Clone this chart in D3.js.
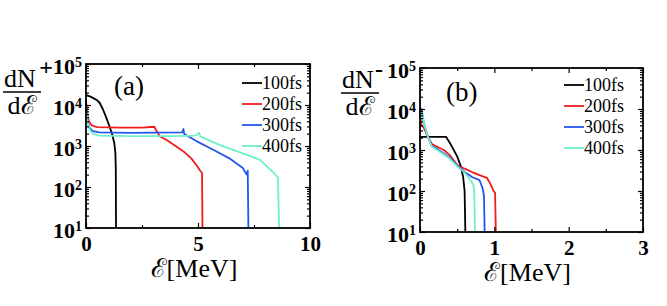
<!DOCTYPE html>
<html>
<head>
<meta charset="utf-8">
<script src="https://cdn.jsdelivr.net/npm/d3@7"></script>
<style>
  body { margin: 0; background: white; }
  svg { display: block; }
</style>
</head>
<body>
<svg id="chart" width="667" height="306"></svg>
<script>
// series labels and colours
var times = ["100fs", "200fs", "300fs", "400fs"];
var lineColors = ["#000000", "#f01c1c", "#2455f0", "#6ff0c8"];

// (a) positrons: [energy MeV, dN/dE]
var positron100 = [[0, 1.75e4], [0.2, 1.6e4], [0.5, 1.3e4], [0.6, 1.15e4], [0.75, 8e3], [0.9, 5e3],
    [1.05, 3e3], [1.17, 1.9e3], [1.26, 1.2e3], [1.31, 7e2], [1.33, 3e2], [1.34, 10]];
var positron200 = [[0, 1.3e4], [0.03, 8e3], [0.08, 5e3], [0.15, 3.8e3], [0.25, 3.2e3], [0.5, 2.9e3],
    [1.5, 2.8e3], [2.5, 2.8e3], [3.05, 2.95e3], [3.1, 2.6e3], [3.3, 1.7e3], [3.6, 1.4e3], [4.0, 1e3],
    [4.4, 7e2], [4.7, 5e2], [4.95, 3.3e2], [5.1, 2.5e2], [5.18, 2.2e2], [5.2, 10]];
var positron300 = [[0, 1e4], [0.03, 6.5e3], [0.08, 4e3], [0.15, 2.8e3], [0.3, 2.3e3], [0.6, 2.15e3],
    [2, 2.1e3], [4.3, 2.15e3], [4.35, 2.6e3], [4.38, 2e3], [4.5, 1.8e3], [4.95, 1.3e3], [5.7, 8e2],
    [6.4, 5e2], [7.0, 2.9e2], [7.17, 2e2], [7.22, 2.5e2], [7.25, 10]];
var positron400 = [[0, 9e3], [0.03, 6e3], [0.08, 3.8e3], [0.15, 2.6e3], [0.3, 2e3], [0.6, 1.8e3],
    [2, 1.75e3], [4, 1.75e3], [4.9, 1.8e3], [5.05, 2.1e3], [5.1, 1.7e3], [5.22, 1.6e3], [5.98, 1.05e3],
    [6.88, 7e2], [7.77, 4.6e2], [8.35, 2.3e2], [8.57, 1.7e2], [8.62, 10]];

// (b) electrons: [energy MeV, dN/dE]
var electron100 = [[0, 2.1e3], [0.35, 2.1e3], [0.42, 1.3e3], [0.5, 7e2], [0.55, 4e2], [0.58, 2.2e2],
    [0.6, 1e2], [0.61, 10]];
var electron200 = [[0, 7e3], [0.02, 4e3], [0.05, 3.5e3], [0.1, 2.2e3], [0.16, 1.4e3], [0.25, 1.15e3],
    [0.32, 1e3], [0.4, 7.5e2], [0.5, 4.3e2], [0.6, 3.5e2], [0.7, 2.9e2], [0.8, 2.45e2], [0.9, 2.1e2],
    [0.95, 1.45e2], [0.99, 1e2], [1.01, 9e1], [1.02, 10]];
var electron300 = [[0, 8e3], [0.02, 1e4], [0.04, 6e3], [0.07, 3.5e3], [0.11, 2e3], [0.16, 1.25e3],
    [0.23, 1.05e3], [0.31, 8.5e2], [0.4, 6.5e2], [0.5, 4.2e2], [0.6, 2.9e2], [0.7, 2.2e2], [0.8, 1.85e2],
    [0.84, 1.2e2], [0.86, 8e1], [0.87, 10]];
var electron400 = [[0, 9e3], [0.02, 8e3], [0.05, 5e3], [0.08, 3e3], [0.11, 2e3], [0.16, 1.2e3],
    [0.23, 1e3], [0.31, 8e2], [0.4, 6.2e2], [0.5, 4e2], [0.6, 2.8e2], [0.68, 1.85e2], [0.72, 1.4e2],
    [0.73, 9e1], [0.74, 10]];

// axis ticks
var yMajor = [1e1, 1e2, 1e3, 1e4, 1e5];
var yExponents = ["1", "2", "3", "4", "5"];
var xMajorA = [0, 5, 10];
var xMinorA = [2.5, 7.5];
var xMajorB = [0, 1, 2, 3];
var xMinorB = [0.5, 1.5, 2.5];

var serif = "'Liberation Serif', 'Times New Roman', serif";
var svg = d3.select("#chart");

function Panel(cfg) {
    var w = cfg.width, h = cfg.height;
    var g = svg.append("g").attr("transform", "translate(" + cfg.left + "," + cfg.top + ")");

    var x = d3.scaleLinear().domain(cfg.xDomain).range([0, w]);
    var y = d3.scaleLog().domain([1e1, 1e5]).range([h, 0]);

    var yMinor = [];
    [1e1, 1e2, 1e3, 1e4].forEach(function(d){
        for (var k = 2; k <= 9; k++) yMinor.push(d * k);
    });

    var line = d3.line()
        .x(function(d){return x(d[0])})
        .y(function(d){return y(d[1])});

    // curves
    cfg.series.forEach(function(s, i){
        g.append("path")
            .datum(s)
            .attr("d", line)
            .attr("fill", "none")
            .attr("stroke", lineColors[i])
            .attr("stroke-width", 1.8)
            .attr("stroke-linejoin", "round");
    });

    var styleAxis = function(sel){
        sel.select(".domain").remove();
        sel.selectAll("line").attr("stroke", "black").attr("stroke-width", 1.2);
    };

    // minor ticks, all four sides
    g.append("g").call(d3.axisLeft(y).tickValues(yMinor).tickSize(-3).tickFormat("")).call(styleAxis);
    g.append("g").attr("transform", "translate(" + w + ",0)")
        .call(d3.axisRight(y).tickValues(yMinor).tickSize(-3).tickFormat("")).call(styleAxis);
    g.append("g").attr("transform", "translate(0," + h + ")")
        .call(d3.axisBottom(x).tickValues(cfg.xMinor).tickSize(-3).tickFormat("")).call(styleAxis);
    g.append("g")
        .call(d3.axisTop(x).tickValues(cfg.xMinor).tickSize(-3).tickFormat("")).call(styleAxis);

    // major ticks
    var yAxis = g.append("g")
        .call(d3.axisLeft(y).tickValues(yMajor).tickSizeInner(-5).tickSizeOuter(0).tickPadding(4))
        .call(styleAxis);
    yAxis.selectAll("text")
        .text("")
        .attr("font-family", serif)
        .attr("font-weight", "bold")
        .attr("font-size", 22)
        .attr("fill", "black")
        .attr("dy", "0.45em")
        .each(function(d, i){
            var t = d3.select(this);
            t.append("tspan").text("10");
            t.append("tspan").attr("dy", "-0.55em").attr("font-size", 14).text(yExponents[i]);
        });
    g.append("g").attr("transform", "translate(" + w + ",0)")
        .call(d3.axisRight(y).tickValues(yMajor).tickSize(-5).tickFormat("")).call(styleAxis);

    var xAxis = g.append("g").attr("transform", "translate(0," + h + ")")
        .call(d3.axisBottom(x).tickValues(cfg.xMajor).tickSizeInner(-5).tickSizeOuter(0).tickPadding(8).tickFormat(d3.format("d")))
        .call(styleAxis);
    xAxis.selectAll("text")
        .attr("font-family", serif)
        .attr("font-weight", "bold")
        .attr("font-size", 21)
        .attr("fill", "black");
    g.append("g")
        .call(d3.axisTop(x).tickValues(cfg.xMajor).tickSize(-5).tickFormat("")).call(styleAxis);

    // frame
    g.append("rect")
        .attr("width", w)
        .attr("height", h)
        .attr("fill", "none")
        .attr("stroke", "black")
        .attr("stroke-width", 1.8);

    // panel letter
    g.append("text")
        .attr("x", cfg.letterX)
        .attr("y", cfg.letterY)
        .attr("font-family", serif)
        .attr("font-size", 27)
        .text(cfg.letter);

    // legend
    var entry = g.selectAll(".legend-entry").data(times).enter()
        .append("g")
        .classed("legend-entry", true)
        .attr("transform", function(d, i){return "translate(" + cfg.legendX + "," + (cfg.legendY + i * 21) + ")"});
    entry.append("line")
        .attr("x1", 0).attr("x2", 20)
        .attr("stroke", function(d, i){return lineColors[i]})
        .attr("stroke-width", 1.8);
    entry.append("text")
        .attr("x", 20)
        .attr("dy", "0.35em")
        .attr("font-family", serif)
        .attr("font-size", 18)
        .text(function(d){return d});

    // x label
    g.append("text")
        .attr("x", w / 2 - 4)
        .attr("y", h + 49)
        .attr("text-anchor", "middle")
        .attr("font-family", serif)
        .attr("font-size", 26)
        .text("\u2130[MeV]");

    // y label: dN/dE fraction
    var lab = svg.append("g").attr("transform", "translate(" + cfg.fracX + "," + cfg.fracY + ")");
    lab.append("text")
        .attr("x", 1).attr("y", -5)
        .attr("font-family", serif)
        .attr("font-size", 26)
        .text("dN");
    lab.append("text")
        .attr("x", cfg.signX).attr("y", cfg.signY)
        .attr("text-anchor", "middle")
        .attr("font-family", serif)
        .attr("font-weight", "bold")
        .attr("font-size", 24)
        .text(cfg.sign);
    lab.append("line")
        .attr("x1", 0).attr("x2", 38)
        .attr("stroke", "black")
        .attr("stroke-width", 1.3);
    lab.append("text")
        .attr("x", 19).attr("y", 22)
        .attr("text-anchor", "middle")
        .attr("font-family", serif)
        .attr("font-size", 26)
        .text("d\u2130");

    return g;
}

Panel({
    left: 86, top: 64, width: 224, height: 164,
    xDomain: [0, 10], xMajor: xMajorA, xMinor: xMinorA,
    series: [positron100, positron200, positron300, positron400],
    letter: "(a)", letterX: 28, letterY: 31,
    legendX: 156, legendY: 19,
    fracX: 3, fracY: 92, sign: "+", signX: 43, signY: -17
});

Panel({
    left: 420, top: 68, width: 223, height: 164,
    xDomain: [0, 3], xMajor: xMajorB, xMinor: xMinorB,
    series: [electron100, electron200, electron300, electron400],
    letter: "(b)", letterX: 26, letterY: 33,
    legendX: 144, legendY: 17,
    fracX: 341, fracY: 93, sign: "-", signX: 38, signY: -16
});
</script>
</body>
</html>
